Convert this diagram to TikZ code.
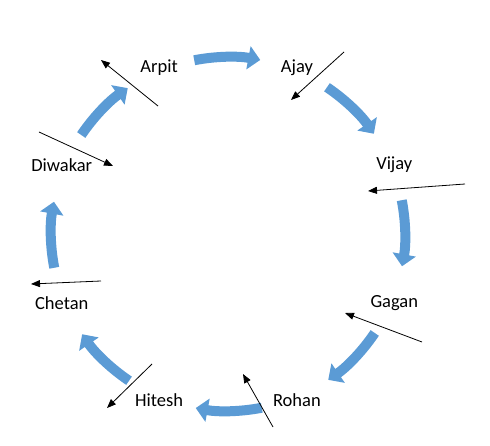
\documentclass[tikz,border=0pt]{standalone}
\usepackage{fontspec}
\setmainfont{Carlito}
\usepackage{xcolor}
\definecolor{cycleblue}{RGB}{91, 155, 213}
\usepackage{tikz}
\usetikzlibrary{arrows.meta}

\tikzset{
  person/.style={font=\fontsize{18.5}{22}\selectfont, inner sep=0pt},
  cyclearrow/.style={cycleblue, line width=10pt, -{Triangle[length=12pt, width=23pt]}},
  pointer/.style={black, line width=0.8pt, -{Triangle[length=9pt, width=7pt]}}
}

\begin{document}
\begin{tikzpicture}[x=1pt, y=1pt]

  \useasboundingbox (0, 0) rectangle (490, 445);
  \coordinate (centre) at (228, 211);

  % the eight names round the ring
  \path (centre) ++(112.5:180) node[person] (arpit) {Arpit};
  \path (centre) ++(67.5:180) node[person] (ajay) {Ajay};
  \path (centre) ++(22.5:180) node[person] (vijay) {Vijay};
  \path (centre) ++(-22.5:180) node[person] (gagan) {Gagan};
  \path (centre) ++(-67.5:180) node[person] (rohan) {Rohan};
  \path (centre) ++(-112.5:180) node[person] (hitesh) {Hitesh};
  \path (centre) ++(-157.5:180) node[person] (chetan) {Chetan};
  \path (centre) ++(157.5:180) node[person] (diwakar) {Diwakar};

  % blue arcs going clockwise between the names
  \foreach \a in {90, 45, 0, -45, -90, -135, -180, -225} {
    \draw[cyclearrow] (centre) ++(\a+11:177) arc[start angle=\a+11, end angle=\a-10.5, radius=177];
  }

  % loose black pointers
  \coordinate (t1) at (158, 339);  \coordinate (h1) at (101, 385);
  \coordinate (t2) at (344, 393);  \coordinate (h2) at (291, 345);
  \coordinate (t3) at (465, 261);  \coordinate (h3) at (368, 254);
  \coordinate (t4) at (422, 103);  \coordinate (h4) at (345, 132);
  \coordinate (t5) at (273, 18);   \coordinate (h5) at (243, 71);
  \coordinate (t6) at (152, 81);   \coordinate (h6) at (107, 37);
  \coordinate (t7) at (101, 164);  \coordinate (h7) at (31, 161);
  \coordinate (t8) at (39, 313);   \coordinate (h8) at (113, 279);
  \foreach \i in {1, ..., 8} {
    \draw[pointer] (t\i) -- (h\i);
  }

\end{tikzpicture}
\end{document}
